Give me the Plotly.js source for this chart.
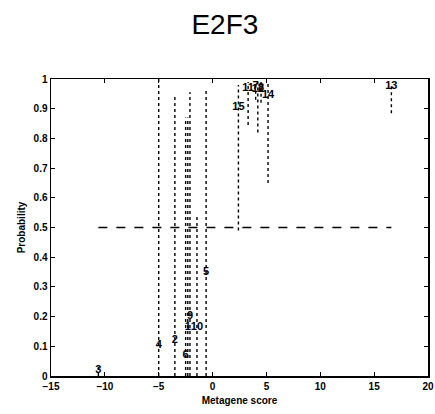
<!DOCTYPE html>
<html>
<head>
<meta charset="utf-8">
<script src="https://cdn.plot.ly/plotly-3.0.1.min.js"></script>
<style>html,body{margin:0;padding:0;background:#fff;}#chart{width:435px;height:414px;}</style>
</head>
<body>
<div id="chart"></div>
<script>
// sample ids
var sampleIds = ['1','2','3','4','5','6','7','8','9','10','11','12','13','14','15'];
// metagene score per sample
var scores = [-2.3, -3.5, -10.6, -5.0, -0.6, -2.5, 4.0, 4.5, -2.1, -1.45, 3.3, 4.2, 16.6, 5.15, 2.4];
// predicted probability per sample
var probs  = [0.165, 0.12, 0.02, 0.105, 0.35, 0.07, 0.975, 0.97, 0.2, 0.165, 0.97, 0.965, 0.975, 0.945, 0.905];
// interval lower / upper bounds
var lower  = [0, 0, 0, 0, 0, 0, 0.93, 0.92, 0, 0, 0.845, 0.82, 0.885, 0.65, 0.49];
var upper  = [0.87, 0.943, 0.03, 1.0, 0.97, 0.87, 0.99, 0.99, 0.955, 0.54, 0.99, 0.99, 0.985, 0.985, 0.98];
var threshold = 0.5;
var xTicks = [-15, -10, -5, 0, 5, 10, 15, 20];
var yTicks = [0, 0.1, 0.2, 0.3, 0.4, 0.5, 0.6, 0.7, 0.8, 0.9, 1];
var yTickText = ['0','0.1','0.2','0.3','0.4','0.5','0.6','0.7','0.8','0.9','1'];

var segX = [], segY = [];
for (var i = 0; i < scores.length; i++) {
  segX.push(scores[i], scores[i], null);
  segY.push(lower[i], upper[i], null);
}
var minS = Math.min.apply(null, scores), maxS = Math.max.apply(null, scores);

var traces = [
  {x: segX, y: segY, mode: 'lines', type: 'scatter', line: {color: '#000', width: 1.4, dash: 'dot'}, hoverinfo: 'skip', connectgaps: false},
  {x: [minS, maxS], y: [threshold, threshold], mode: 'lines', type: 'scatter', line: {color: '#000', width: 1.4, dash: 'dash'}},
  {x: scores, y: probs, mode: 'text', type: 'scatter', text: sampleIds, textposition: 'middle center',
   textfont: {family: 'Liberation Sans, Arial, sans-serif', size: 11, color: '#000', weight: 'bold'}}
];

var axisFont = {family: 'Liberation Sans, Arial, sans-serif', size: 10, color: '#000', weight: 'bold'};
var layout = {
  width: 435, height: 414,
  margin: {l: 51, r: 7, t: 79, b: 38},
  paper_bgcolor: '#fff', plot_bgcolor: '#fff',
  showlegend: false,
  title: {text: 'E2F3', font: {family: 'Liberation Sans, Arial, sans-serif', size: 28, color: '#000'},
          x: 0.517, xref: 'container', xanchor: 'center', y: 0.942, yref: 'container', yanchor: 'middle'},
  xaxis: {range: [-15, 20], tickvals: xTicks, ticktext: xTicks.map(function(v){return v < 0 ? '\u2212' + Math.abs(v) : String(v);}),
          ticks: 'inside', ticklen: 4, tickcolor: '#000', showline: true, linecolor: '#000', linewidth: 1.5,
          mirror: 'allticks', showgrid: false, zeroline: false, tickfont: axisFont,
          title: {text: 'Metagene score', font: axisFont, standoff: 6}},
  yaxis: {range: [0, 1], tickvals: yTicks, ticktext: yTickText,
          ticks: 'inside', ticklen: 4, tickcolor: '#000', showline: true, linecolor: '#000', linewidth: 1.5,
          mirror: 'allticks', showgrid: false, zeroline: false, tickfont: axisFont,
          title: {text: 'Probability', font: axisFont, standoff: 6}}
};
Plotly.newPlot('chart', traces, layout, {staticPlot: true});
</script>
</body>
</html>
